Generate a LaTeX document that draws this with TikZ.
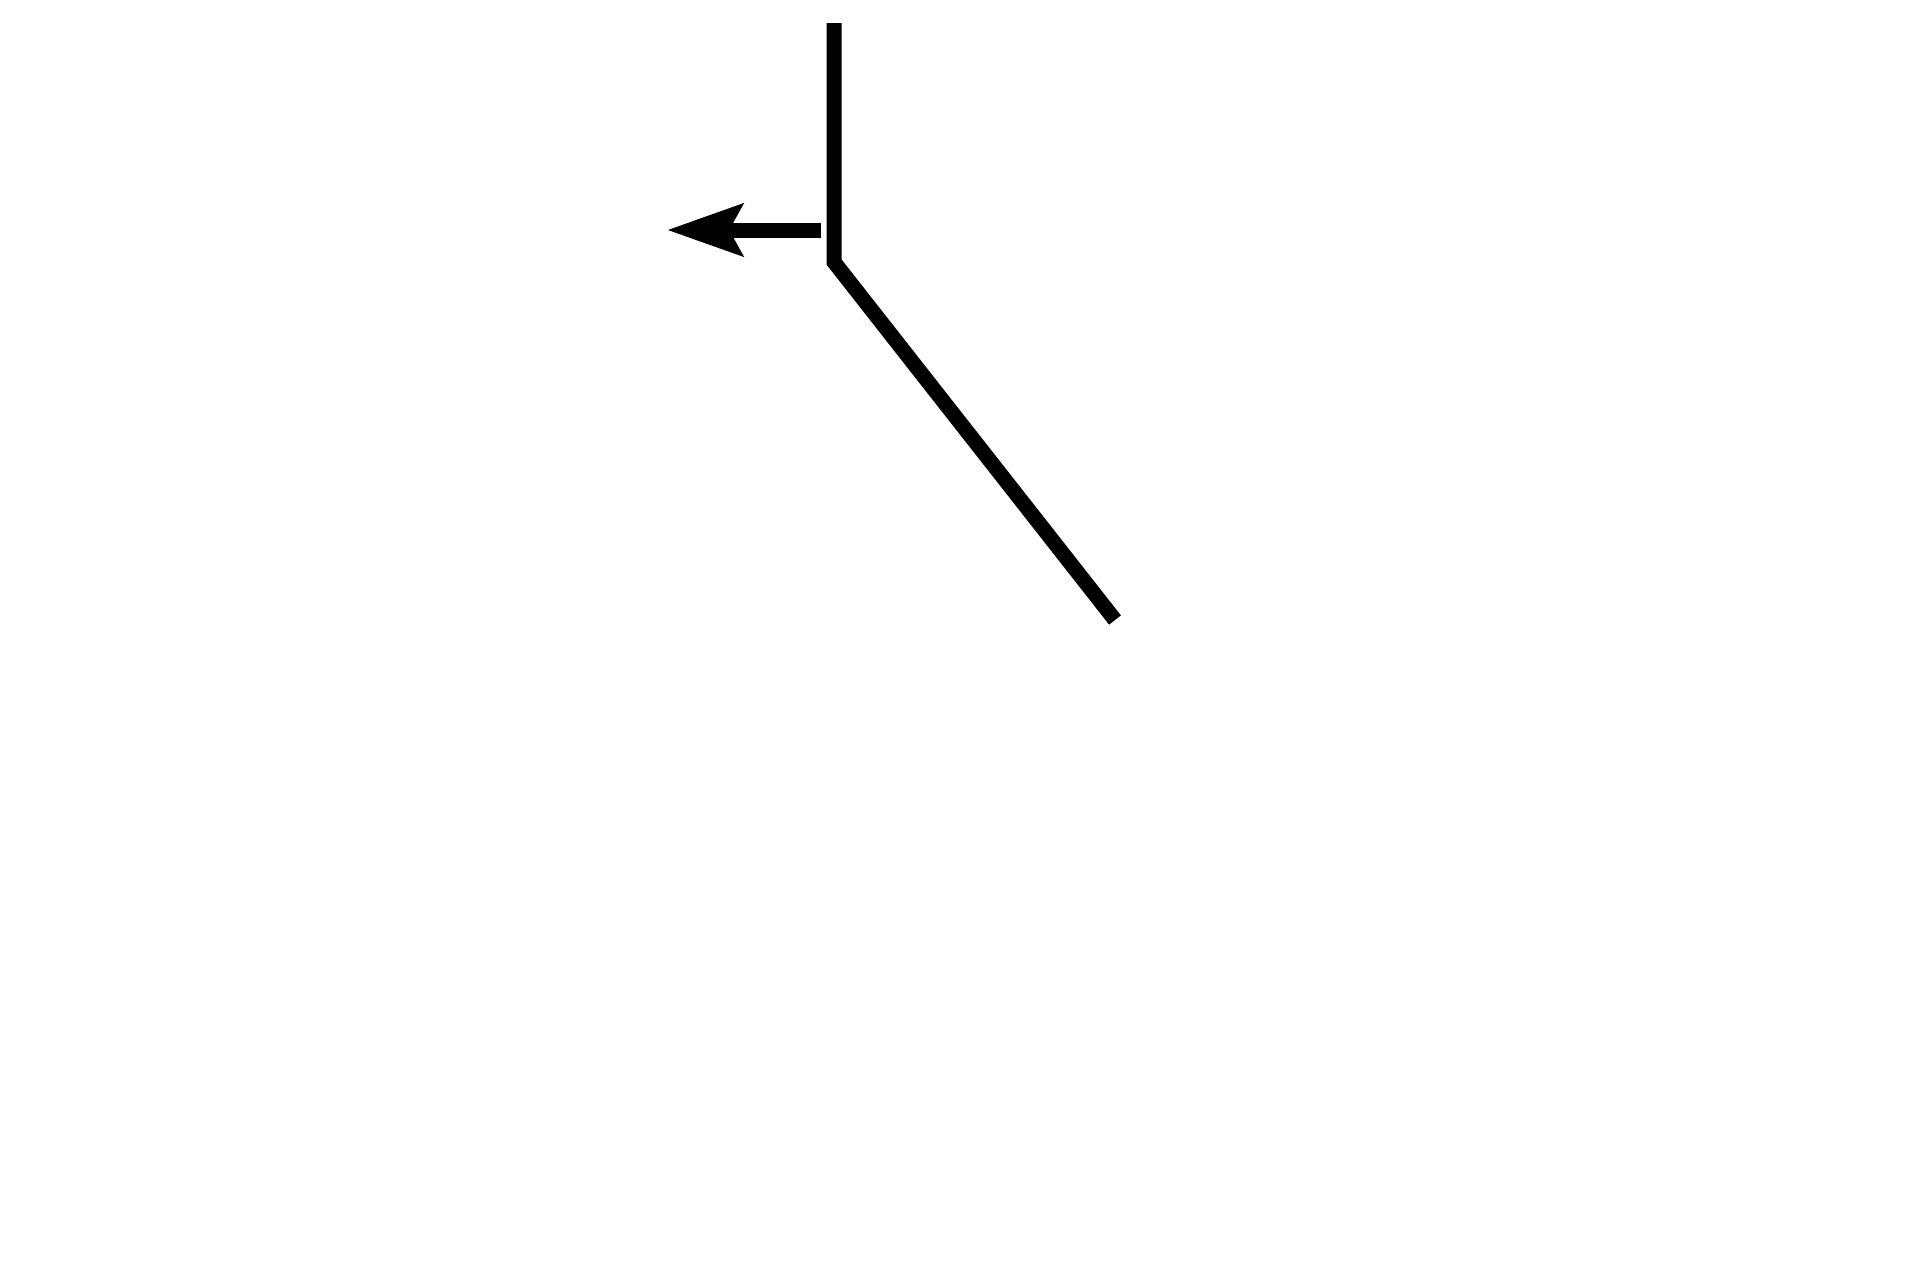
\documentclass[tikz,border=0pt]{standalone}
\usetikzlibrary{arrows.meta}
\begin{document}
\begin{tikzpicture}[x=1pt,y=-1pt,
  stroke/.style={line width=15pt, line cap=butt, line join=miter, black},
  pointer/.style={line width=15pt, line cap=butt, black, -{Stealth[length=75pt, width=51pt, inset=13pt]}}]
\useasboundingbox (0,0) rectangle (1920,1280);
\coordinate (top) at (834,23);
\coordinate (bend) at (834,262);
\coordinate (end) at (1115,620);
\coordinate (shaftstart) at (821,230);
\coordinate (tip) at (667,230);
\draw[stroke] (top) -- (bend) -- (end);
\draw[pointer] (shaftstart) -- (tip);
\end{tikzpicture}
\end{document}
